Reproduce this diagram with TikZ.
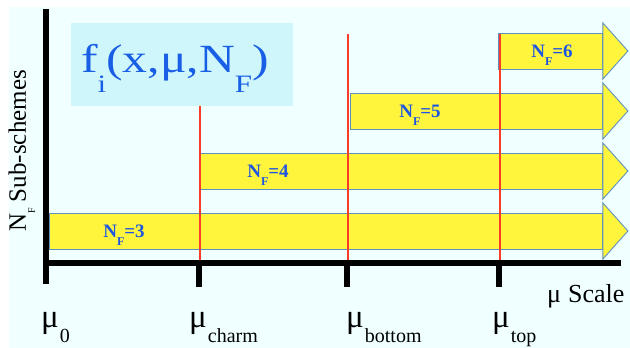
\documentclass[tikz,border=0pt]{standalone}
\usepackage{fontspec}
\setmainfont{Liberation Serif}
\usepackage{graphicx}
\definecolor{bgcyan}{RGB}{240,255,255}
\definecolor{titlecyan}{RGB}{206,246,251}
\definecolor{baryellow}{RGB}{255,245,60}
\definecolor{baredge}{RGB}{95,145,190}
\definecolor{labelblue}{RGB}{30,85,225}
\definecolor{titleblue}{RGB}{25,95,230}
\definecolor{scalered}{RGB}{250,60,40}
\newcommand{\lowsub}[3]{\lower#1\hbox{\fontsize{#2}{#2}\selectfont #3}}
\newcommand{\nflabel}[1]{N\lowsub{8pt}{12}{F}=#1}
\newcommand{\mulabel}[1]{μ\hspace{1pt}\lowsub{15pt}{20}{#1}}

\begin{document}
\begin{tikzpicture}[
    x=1pt, y=-1pt,
    shaft/.style={draw=baredge, fill=baryellow, line width=0.9pt,
      minimum height=36pt, inner sep=0pt, anchor=west},
    head/.style={draw=baredge, fill=baryellow, line width=0.9pt},
    nf/.style={text=labelblue, font=\fontsize{19}{19}\selectfont\bfseries,
      anchor=base, inner sep=0pt},
    threshold/.style={draw=scalered, line width=1.6pt},
    axis/.style={draw=black, line width=6pt},
    mu/.style={font=\fontsize{33}{33}\selectfont, anchor=base west,
      inner sep=0pt},
  ]
  \useasboundingbox (0,0) rectangle (630,348);
  \fill[bgcyan] (9,7) rectangle (630,348);

  \node[fill=titlecyan, minimum width=222pt, minimum height=83pt,
    anchor=north west, inner sep=0pt] (titlebox) at (71,23) {};
  \node[text=titleblue, font=\fontsize{40}{40}\selectfont, anchor=base west,
    inner sep=0pt] (title) at (81,72)
    {\scalebox{1.24}[1]{f\lowsub{20pt}{25}{i}(x,μ,N\lowsub{20pt}{25}{F})}};

  \node[shaft, minimum width=553pt] (bar3) at (49,231) {};
  \draw[head] (bar3.east) ++(0,-28) -- ++(25,28) -- ++(-25,28) -- cycle;
  \node[shaft, minimum width=402pt] (bar4) at (200,171) {};
  \draw[head] (bar4.east) ++(0,-28) -- ++(25,28) -- ++(-25,28) -- cycle;
  \node[shaft, minimum width=252pt] (bar5) at (350,111) {};
  \draw[head] (bar5.east) ++(0,-28) -- ++(25,28) -- ++(-25,28) -- cycle;
  \node[shaft, minimum width=104pt] (bar6) at (498,51) {};
  \draw[head] (bar6.east) ++(0,-28) -- ++(25,28) -- ++(-25,28) -- cycle;

  \node[nf] (nf3) at (124,237) {\nflabel{3}};
  \node[nf] (nf4) at (268,177) {\nflabel{4}};
  \node[nf] (nf5) at (420,117) {\nflabel{5}};
  \node[nf] (nf6) at (552,57) {\nflabel{6}};

  \draw[threshold] (200,106) -- (200,263);
  \draw[threshold] (348,34) -- (348,263);
  \draw[threshold] (500,34) -- (500,263);

  \draw[axis] (46,9) -- (46,284);
  \draw[axis] (43,263) -- (621,263);
  \draw[axis] (199,263) -- (199,287);
  \draw[axis] (347,263) -- (347,287);
  \draw[axis] (499,263) -- (499,287);

  \node[rotate=90, anchor=base, inner sep=0pt,
    font=\fontsize{25}{25}\selectfont] (ylabel) at (26,151)
    {N\lowsub{9pt}{10}{F} Sub-schemes};

  \node[mu] (mu0) at (41,327) {\mulabel{0}};
  \node[mu] (mucharm) at (189,327) {\mulabel{charm}};
  \node[mu] (mubottom) at (346,327) {\mulabel{bottom}};
  \node[mu] (mutop) at (492,327) {\mulabel{top}};
  \node[font=\fontsize{26}{26}\selectfont, anchor=base west, inner sep=0pt]
    (scale) at (547,302) {μ\hspace{7pt}Scale};
\end{tikzpicture}
\end{document}
